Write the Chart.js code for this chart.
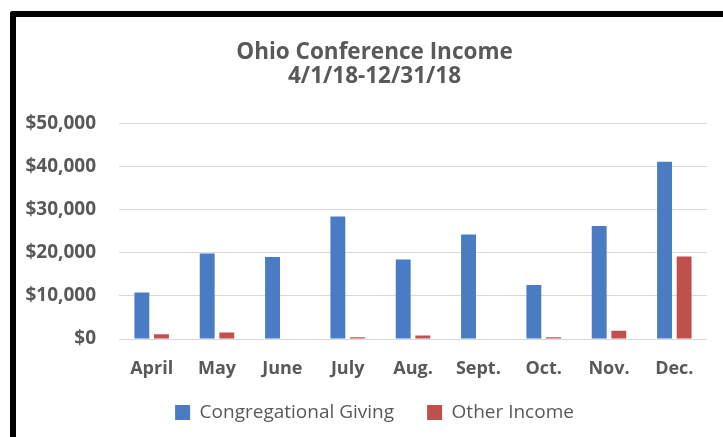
<!DOCTYPE html>
<html>
<head>
<meta charset="utf-8">
<script src="https://cdn.jsdelivr.net/npm/chart.js@4/dist/chart.umd.min.js"></script>
<style>
    html, body { margin: 0; padding: 0; background: #fff; overflow: hidden; }
    #frame {
        position: absolute; left: 10px; top: 11px;
        width: 800px; height: 500px;
        border-left: 6px solid #000; border-top: 6px solid #000;
        border-top-left-radius: 3px;
    }
    #wrap { position: absolute; left: 0; top: 0; width: 723px; height: 437px; }
</style>
</head>
<body>
<div id="frame"></div>
<div id="wrap"><canvas id="incomeChart"></canvas></div>
<script>
const months = ['April', 'May', 'June', 'July', 'Aug.', 'Sept.', 'Oct.', 'Nov.', 'Dec.'];
const congregationalGiving = [10800, 19800, 19000, 28400, 18400, 24200, 12500, 26200, 41100];
const otherIncome = [1100, 1500, 0, 400, 800, 0, 400, 1900, 19100];
const yMin = 0;
const yMax = 50000;
const yStep = 10000;

const textGray = '#595959';
const fontName = "'Open Sans', sans-serif";

// Excel centers title and legend on the whole framed chart, which sits
// a bit right of the canvas; nudge both blocks over after layout.
// legend padding is wide for the gap between items, so pull it up too
const centerShift = {
    id: 'centerShift',
    afterLayout(chart) {
        for (const box of [chart.titleBlock, chart.legend]) {
            box.left += 16;
            box.right += 16;
        }
        chart.legend.top -= 13;
        chart.legend.bottom -= 13;
    }
};

const data = {
    labels: months,
    datasets: [{
        label: 'Congregational Giving',
        backgroundColor: '#4a7cc4',
        data: congregationalGiving,
        categoryPercentage: 0.6,
        barPercentage: 0.76
    }, {
        label: 'Other Income',
        backgroundColor: '#c0504d',
        data: otherIncome,
        categoryPercentage: 0.6,
        barPercentage: 0.76
    }]
};

const config = {
    type: 'bar',
    data: data,
    plugins: [centerShift],
    options: {
        responsive: false,
        animation: false,
        devicePixelRatio: 1,
        layout: { padding: { left: 10, right: 16, top: 41, bottom: 0 } },
        plugins: {
            title: {
                display: true,
                text: ['Ohio Conference Income', '4/1/18-12/31/18'],
                color: textGray,
                font: { family: fontName, size: 22.5, weight: 'bold', lineHeight: 1.05 },
                padding: { top: 0, bottom: 35 }
            },
            legend: {
                position: 'bottom',
                maxHeight: 54,
                labels: {
                    color: textGray,
                    font: { family: fontName, size: 19 },
                    boxWidth: 15,
                    boxHeight: 15,
                    padding: 33
                }
            },
            tooltip: { enabled: false }
        },
        scales: {
            x: {
                grid: { display: false, drawTicks: false },
                border: { display: false },
                afterFit: (scale) => { scale.height = 44; },
                ticks: {
                    color: textGray,
                    font: { family: fontName, size: 18, weight: 'bold' },
                    padding: 19
                }
            },
            y: {
                min: yMin,
                max: yMax,
                grid: { color: '#d9d9d9', drawTicks: false },
                border: { display: false },
                afterFit: (scale) => { scale.width = 109; },
                ticks: {
                    stepSize: yStep,
                    color: textGray,
                    font: { family: fontName, size: 19, weight: 'bold' },
                    padding: 23,
                    callback: (v) => '$' + v.toLocaleString('en-US')
                }
            }
        }
    }
};

const canvas = document.getElementById('incomeChart');
canvas.width = 723;
canvas.height = 437;
const incomeChart = new Chart(canvas, config); // eslint-disable-line
</script>
</body>
</html>
